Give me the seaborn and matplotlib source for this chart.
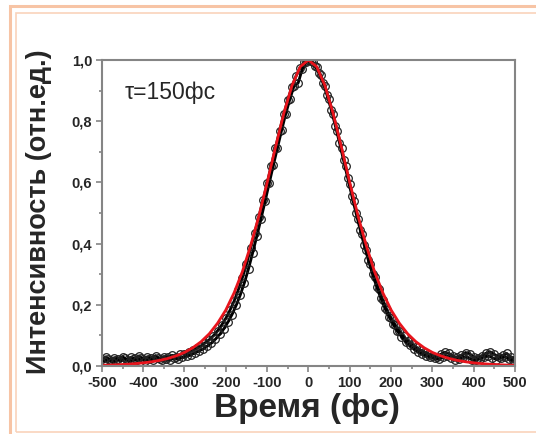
import numpy as np
import pandas as pd
import matplotlib
matplotlib.use('Agg')
import matplotlib.pyplot as plt
import seaborn as sns
from matplotlib.patches import Rectangle
from matplotlib.transforms import IdentityTransform
from matplotlib.ticker import MultipleLocator, FuncFormatter

# Данные: два прохода автокоррелятора (шаг 10 фс, сдвинуты на 5 фс)
t_scan1 = list(range(-500, 501, 10))
i_scan1 = [0.022, 0.030, 0.018, 0.027, 0.024, 0.031, 0.020, 0.028, 0.025, 0.033,
           0.022, 0.030, 0.026, 0.034, 0.024, 0.031, 0.028, 0.035, 0.030, 0.038,
           0.040, 0.047, 0.052, 0.060, 0.066, 0.076, 0.086, 0.099, 0.115, 0.134,
           0.156, 0.182, 0.212, 0.248, 0.288, 0.332, 0.385, 0.436, 0.488, 0.542,
           0.598, 0.655, 0.712, 0.768, 0.822, 0.870, 0.913, 0.948, 0.975, 0.993,
           0.999,
           0.993, 0.976, 0.950, 0.914, 0.871, 0.822, 0.768, 0.711, 0.652, 0.594,
           0.538, 0.482, 0.430, 0.380, 0.334, 0.290, 0.250, 0.215, 0.183, 0.157,
           0.134, 0.114, 0.097, 0.083, 0.071, 0.061, 0.052, 0.045, 0.040, 0.034,
           0.030, 0.038, 0.045, 0.041, 0.032, 0.028, 0.035, 0.044, 0.040, 0.030,
           0.026, 0.033, 0.042, 0.046, 0.038, 0.030, 0.035, 0.041, 0.028, 0.024]

t_scan2 = list(range(-495, 496, 10))
i_scan2 = [0.015, 0.024, 0.012, 0.020, 0.017, 0.025, 0.014, 0.022, 0.018, 0.026,
           0.016, 0.023, 0.019, 0.027, 0.018, 0.024, 0.020, 0.026, 0.022, 0.028,
           0.033, 0.037, 0.043, 0.049, 0.056, 0.065, 0.075, 0.088, 0.103, 0.121,
           0.143, 0.168, 0.198, 0.232, 0.272, 0.318, 0.370, 0.424, 0.480, 0.538,
           0.597, 0.656, 0.713, 0.770, 0.824, 0.872, 0.915, 0.925, 0.970, 0.994,
           0.997, 0.982, 0.958, 0.925, 0.885, 0.838, 0.785, 0.730, 0.672, 0.614,
           0.556, 0.500, 0.446, 0.394, 0.345, 0.300, 0.259, 0.222, 0.189, 0.161,
           0.136, 0.114, 0.096, 0.080, 0.067, 0.056, 0.047, 0.040, 0.034, 0.029,
           0.025, 0.022, 0.028, 0.033, 0.025, 0.020, 0.024, 0.030, 0.027, 0.021,
           0.018, 0.024, 0.030, 0.034, 0.027, 0.021, 0.026, 0.031, 0.022, 0.018]

# Аппроксимация (красная кривая), шаг 20 фс
t_fit = list(range(-500, 501, 20))
fit_half = [1.000, 0.978, 0.916, 0.824, 0.714, 0.599, 0.490, 0.393, 0.308, 0.239,
            0.183, 0.1397, 0.1053, 0.0793, 0.0595, 0.0443, 0.0332, 0.0247, 0.0184,
            0.0137, 0.0102, 0.0076, 0.0056, 0.0042, 0.0031, 0.0023]
i_fit = fit_half[:0:-1] + fit_half

sns.set_style('ticks')
plt.rcParams['font.family'] = ['Liberation Sans', 'DejaVu Sans']
plt.rcParams['axes.unicode_minus'] = False

fig = plt.figure(figsize=(5.36, 4.34), dpi=100)
ax = fig.add_axes([0.190, 0.1567, 0.771, 0.705])

for t, i in [(t_scan1, i_scan1), (t_scan2, i_scan2)]:
    sns.lineplot(x=t, y=i, ax=ax, color='black', linewidth=2.0,
                 marker='o', markersize=5.5, markerfacecolor='none',
                 markeredgecolor='#222222', markeredgewidth=0.9)

sns.lineplot(x=t_fit, y=i_fit, ax=ax, color='#e8141c', linewidth=2.0)

ax.set_xlim(-500, 500)
ax.set_ylim(0, 1.0)
ax.xaxis.set_major_locator(MultipleLocator(100))
ax.xaxis.set_minor_locator(MultipleLocator(50))
ax.yaxis.set_major_locator(MultipleLocator(0.2))
ax.yaxis.set_minor_locator(MultipleLocator(0.1))
ax.yaxis.set_major_formatter(FuncFormatter(lambda v, p: f'{v:.1f}'.replace('.', ',')))

for s in ax.spines.values():
    s.set_visible(True)
    s.set_color('#858585')
    s.set_linewidth(1.5)

ax.tick_params(which='both', direction='out', color='#858585', width=1.2)
ax.tick_params(which='major', length=4, pad=3, labelsize=10.5)
ax.tick_params(which='minor', length=2.5)
for lab in ax.get_xticklabels() + ax.get_yticklabels():
    lab.set_fontweight('bold')

ax.set_xlabel('Время (фс)', fontsize=24, fontweight='bold')
ax.set_ylabel('Интенсивность (отн.ед.)', fontsize=19.5, fontweight='bold')
ax.xaxis.set_label_coords(0.497, -0.088)
ax.yaxis.set_label_coords(-0.12, 0.505)

ax.text(0.054, 0.872, 'τ=150фс', transform=ax.transAxes, fontsize=16.5)

# оранжевая рамка вокруг картинки
fig.patches.append(Rectangle((10, -50), 700, 478, fill=False, edgecolor='#f7c4a5',
                             linewidth=2.2, transform=IdentityTransform(), figure=fig))
fig.patches.append(Rectangle((15.5, 2), 700, 419.5, fill=False, edgecolor='#f9d3bb',
                             linewidth=1.2, transform=IdentityTransform(), figure=fig))

fig.savefig('out.png', dpi=100)
